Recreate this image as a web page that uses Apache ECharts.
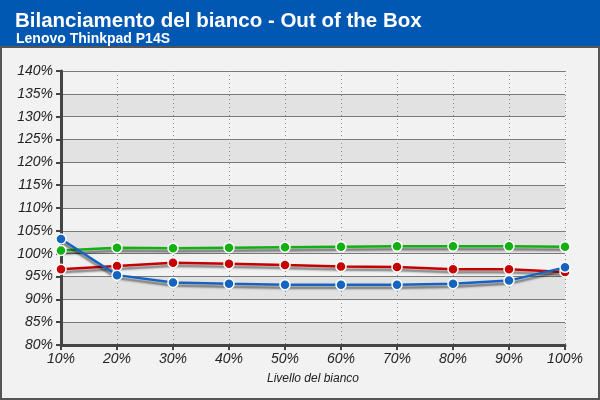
<!DOCTYPE html>
<html><head><meta charset="utf-8">
<script src="https://cdn.jsdelivr.net/npm/echarts@6/dist/echarts.min.js"></script>
<style>html,body{margin:0;padding:0;background:#f2f2f2}#c{width:600px;height:400px}</style>
</head><body><div id="c"></div>
<script>
const categories = ['10%','20%','30%','40%','50%','60%','70%','80%','90%','100%'];
const redValues   = [96.6, 97.3, 98.0, 97.8, 97.5, 97.2, 97.1, 96.6, 96.6, 96.0];
const greenValues = [100.7, 101.3, 101.2, 101.3, 101.4, 101.5, 101.6, 101.6, 101.6, 101.5];
const blueValues  = [103.2, 95.3, 93.7, 93.4, 93.2, 93.2, 93.2, 93.4, 94.1, 97.0];
const yTicks = {min: 80, max: 140, interval: 5};

const chart = echarts.init(document.getElementById('c'));
function mk(name, data, color){
  return {
    name, type:'line', data, symbol:'circle', symbolSize:10, z: 3,
    lineStyle:{color, width:2.5, shadowColor:'rgba(0,0,0,0.5)', shadowBlur:2, shadowOffsetY:3},
    itemStyle:{color, borderColor:'#ffffff', borderWidth:1.5},
    emphasis:{disabled:true}, animation:false
  };
}
chart.setOption({
  backgroundColor:'#f2f2f2',
  animation:false,
  graphic:[
    {type:'rect', shape:{x:0,y:0,width:600,height:46}, style:{fill:'#0058b2'}, z:-10, silent:true},
    {type:'rect', shape:{x:1,y:47,width:598,height:352}, style:{fill:'none', stroke:'#555555', lineWidth:2}, z:-10, silent:true}
  ],
  title:[
    {text:'Bilanciamento del bianco - Out of the Box', left:10, top:6,
     textStyle:{color:'#ffffff', fontFamily:'Liberation Sans, Arial', fontWeight:'bold', fontSize:20.5}},
    {text:'Lenovo Thinkpad P14S', left:11, top:27,
     textStyle:{color:'#ffffff', fontFamily:'Liberation Sans, Arial', fontWeight:'bold', fontSize:14}}
  ],
  grid:{left:61, right:35, top:71, bottom:55},
  xAxis:{
    type:'category', data:categories, boundaryGap:false,
    name:'Livello del bianco', nameLocation:'middle', nameGap:28,
    nameTextStyle:{fontFamily:'Liberation Sans, Arial', fontStyle:'italic', fontSize:12, color:'#222'},
    axisLine:{lineStyle:{color:'#444', width:3}},
    axisTick:{show:true, alignWithLabel:true, length:5, lineStyle:{color:'#444', width:2}},
    axisLabel:{fontFamily:'Liberation Sans, Arial', fontStyle:'italic', fontSize:14, color:'#222', margin:7},
    splitLine:{show:true, lineStyle:{color:'#888', type:[1,3], width:1}}
  },
  yAxis:{
    type:'value', min:yTicks.min, max:yTicks.max, interval:yTicks.interval,
    axisLine:{show:true, lineStyle:{color:'#444', width:3}},
    axisTick:{show:true, length:5, lineStyle:{color:'#444', width:2}},
    axisLabel:{formatter:'{value}%', fontFamily:'Liberation Sans, Arial', fontStyle:'italic', fontSize:14, color:'#222', margin:8},
    splitLine:{show:true, lineStyle:{color:'#7a7a7a', width:1}},
    splitArea:{show:true, areaStyle:{color:['#e2e2e2','#f2f2f2']}}
  },
  series:[
    mk('Rosso', redValues, '#c40000'),
    mk('Verde', greenValues, '#12b012'),
    mk('Blu', blueValues, '#1565c0')
  ]
});
</script></body></html>
